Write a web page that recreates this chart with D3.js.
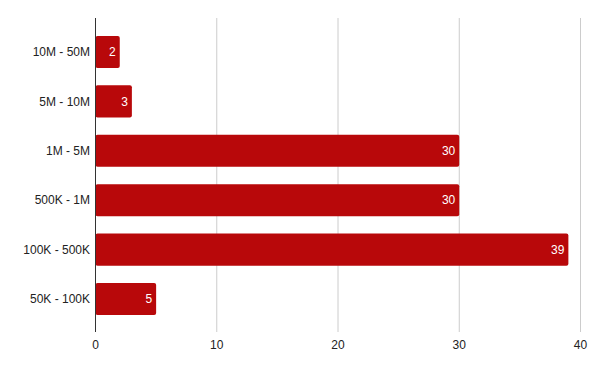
<!DOCTYPE html>
<html><head><meta charset="utf-8">
<script src="https://cdn.jsdelivr.net/npm/d3@7"></script>
<style>body{margin:0;background:#fff}svg{display:block}text{font-family:Arial,"Liberation Sans",sans-serif}</style>
</head><body>
<svg id="c" width="600" height="371"></svg>
<script>
const categories = ["10M - 50M","5M - 10M","1M - 5M","500K - 1M","100K - 500K","50K - 100K"];
const values = [2,3,30,30,39,5];
const xTicks = [0,10,20,30,40];

const svg = d3.select("#c");
const x = d3.scaleLinear().domain([0,40]).range([95.5,580.5]);
const y = d3.scaleBand().domain(categories).range([27.3,323.7]).paddingInner(0.35).paddingOuter(0.175);

svg.append("g").selectAll("line").data(xTicks.slice(1)).join("line")
  .attr("x1",d=>x(d)).attr("x2",d=>x(d)).attr("y1",18).attr("y2",332)
  .attr("stroke","#cccccc").attr("stroke-width",1);

const data = categories.map((c,i)=>({c,v:values[i]}));
svg.append("g").selectAll("rect").data(data).join("rect")
  .attr("x",x(0)).attr("y",d=>y(d.c)).attr("width",d=>x(d.v)-x(0)).attr("height",y.bandwidth())
  .attr("rx",2).attr("fill","#b8080a");

svg.append("line").attr("x1",x(0)).attr("x2",x(0)).attr("y1",18).attr("y2",332).attr("stroke","#333").attr("stroke-width",1);

svg.append("g").selectAll("text").data(data).join("text")
  .attr("x",d=>x(d.v)-4).attr("y",d=>y(d.c)+y.bandwidth()/2).attr("dy","0.35em")
  .attr("text-anchor","end").attr("fill","#fff").attr("font-size",12).text(d=>d.v);

svg.append("g").selectAll("text").data(categories).join("text")
  .attr("x",90).attr("y",d=>y(d)+y.bandwidth()/2).attr("dy","0.35em")
  .attr("text-anchor","end").attr("fill","#222").attr("font-size",12).text(d=>d);

svg.append("g").selectAll("text").data(xTicks).join("text")
  .attr("x",d=>x(d)).attr("y",345).attr("dy","0.35em")
  .attr("text-anchor","middle").attr("fill","#222").attr("font-size",12).text(d=>d);
</script>
</body></html>
